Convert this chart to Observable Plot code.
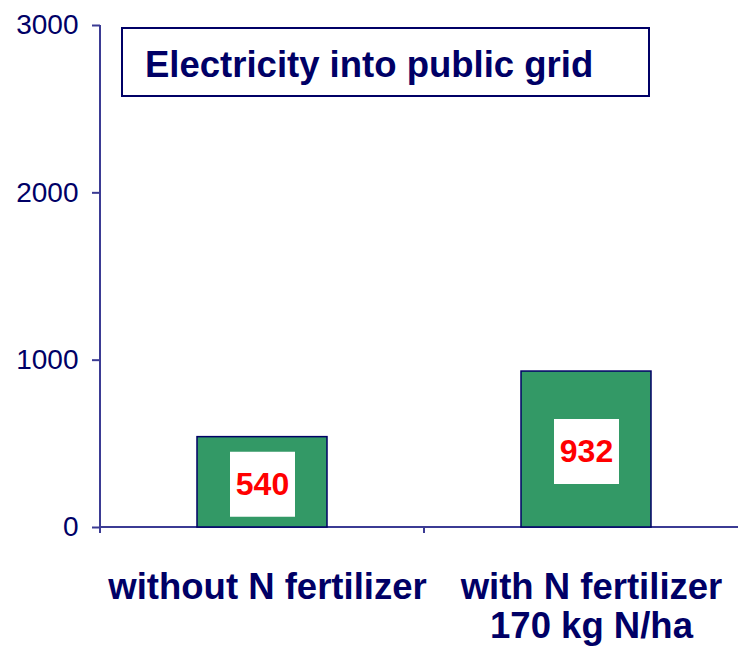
<!DOCTYPE html>
<html><head><meta charset="utf-8">
<script src="https://cdn.jsdelivr.net/npm/d3@7"></script>
<script src="https://cdn.jsdelivr.net/npm/@observablehq/plot@0.6"></script>
<style>
body{margin:0;background:#fff;}
#wrap{position:relative;width:738px;height:651px;font-family:"Liberation Sans",Arial,sans-serif;overflow:hidden;}
#title{position:absolute;left:121px;top:27px;width:529px;height:70px;box-sizing:border-box;border:2px solid #000066;background:#fff;color:#000066;font-weight:bold;font-size:36.5px;line-height:66px;padding-left:22px;padding-top:3px;white-space:nowrap;}
</style></head><body>
<div id="wrap"><div id="title"></div></div>
<script>
const categories = ["without N fertilizer", "with N fertilizer\n170 kg N/ha"];
const values = [540, 932];
const yTicks = [0, 1000, 2000, 3000];
const titleText = "Electricity into public grid";

const data = categories.map((c, i) => ({category: c, value: values[i]}));

function axisLines(index, scales) {
  const x = scales.x, y = scales.y;
  const half = (x.step() - x.bandwidth()) / 2;
  const edges = categories.map(c => x(c) - half);
  edges.push(x(categories[categories.length - 1]) + x.bandwidth() + half);
  const y0 = y(0), yTop = y(d3.max(yTicks));
  const g = d3.create("svg:g").attr("stroke", "#3b3b94").attr("stroke-width", 2).attr("fill", "none");
  g.append("line").attr("x1", edges[0]).attr("x2", edges[edges.length - 1]).attr("y1", y0).attr("y2", y0);
  g.append("line").attr("x1", edges[0]).attr("x2", edges[0]).attr("y1", y0).attr("y2", yTop);
  g.selectAll(null).data(edges).join("line")
    .attr("x1", d => d).attr("x2", d => d).attr("y1", y0).attr("y2", y0 + 6);
  return g.node();
}

const chart = Plot.plot({
  width: 738,
  height: 651,
  marginLeft: 100,
  marginRight: 0,
  marginTop: 25,
  marginBottom: 124,
  style: {fontFamily: '"Liberation Sans", Arial, sans-serif', background: "white", overflow: "visible"},
  x: {domain: categories, range: [100, 748], paddingInner: 0.6, paddingOuter: 0.3},
  y: {domain: [0, 3000], range: [527, 25]},
  marks: [
    axisLines,
    Plot.axisY({ticks: yTicks, tickSize: 8, tickPadding: 14, fontSize: 28, stroke: "#3b3b94", strokeWidth: 2, fill: "#000066", label: null, tickFormat: d => String(d)}),
    Plot.axisX({tickSize: 0, tickPadding: 44, fontSize: 36.5, fontWeight: "bold", fill: "#000066", lineHeight: 1.07, dx: 5, label: null}),
    Plot.barY(data, {x: "category", y: "value", fill: "#339966", stroke: "#000066", strokeWidth: 1.5}),
    Plot.dot(data, {x: "category", y: d => d.value / 2, symbol: "square", r: 36.67, fill: "white", stroke: "none", dy: 2}),
    Plot.text(data, {x: "category", y: d => d.value / 2, text: d => String(d.value), fill: "#ff0000", fontSize: 32, fontWeight: "bold", dy: 2})
  ]
});
document.getElementById("wrap").insertBefore(chart, document.getElementById("title"));
document.getElementById("title").textContent = titleText;
</script>
</body></html>
